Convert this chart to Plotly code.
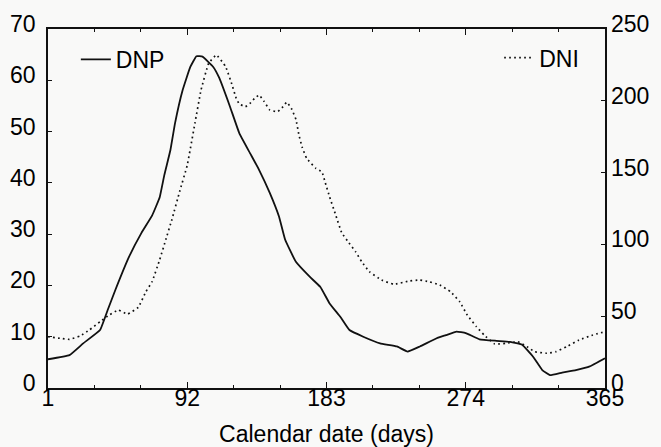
import plotly.graph_objects as go

# DNP (left axis) – calendar day and value
dnp_day = [1, 15, 24, 35, 40, 45, 54, 62, 69, 74, 77, 81, 84, 89, 94, 98, 102, 109, 113,
           120, 126, 133, 139, 146, 152, 156, 163, 172, 179, 185, 192, 198, 207, 218,
           229, 236, 244, 255, 261, 268, 274, 283, 294, 303, 311, 318, 324, 329, 337,
           346, 355, 365]
dnp_val = [5.6, 6.4, 8.7, 11.3, 15.2, 19.1, 25.6, 30.2, 33.6, 37.2, 41.5, 46.4, 51.6,
           58.1, 62.6, 64.7, 64.6, 62.6, 60.4, 54.8, 49.7, 45.8, 42.5, 38.0, 33.4, 28.9,
           24.6, 21.7, 19.7, 16.5, 13.9, 11.3, 10.0, 8.7, 8.1, 7.1, 8.1, 9.7, 10.3, 11.0,
           10.7, 9.5, 9.2, 9.0, 8.4, 6.1, 3.5, 2.5, 3.0, 3.5, 4.2, 5.8]

# DNI (right axis) – calendar day and value
dni_day = [1, 9, 15, 22, 28, 35, 41, 47, 53, 60, 65, 69, 74, 78, 82, 87, 92, 97, 101,
           106, 111, 117, 121, 124, 126, 130, 133, 136, 139, 142, 146, 151, 154, 157,
           160, 163, 165, 167, 170, 176, 180, 182, 185, 189, 193, 197, 202, 206, 211,
           219, 227, 237, 244, 250, 257, 264, 270, 275, 281, 286, 293, 300, 308, 314,
           319, 327, 333, 340, 348, 357, 365]
dni_val = [35.7, 34.6, 33.9, 36.2, 40.4, 46.2, 50.8, 54.3, 51.5, 56.2, 67.1, 74.0, 89.4,
           103.4, 117.4, 136.7, 155.2, 184.3, 207.5, 226.1, 231.9, 224, 212, 201.7, 197.8,
           195.9, 198.2, 201.7, 204, 199.9, 193.6, 192.4, 195.2, 199, 194.8, 187.1,
           176.2, 168, 160, 153, 150.6, 143.7, 133.2, 120.5, 108, 102, 94.9, 88, 81,
           75.2, 72.2, 74.5, 75.2, 74, 71.7, 67.1, 60.1, 50.8, 42.7, 36.9, 30.6, 31.1,
           32.2, 28.8, 25.3, 24.2, 25.3, 28.8, 33.4, 36.9, 39.2]

x_ticks = [1, 92, 183, 274, 365]
y1_ticks = [0, 10, 20, 30, 40, 50, 60, 70]
y2_ticks = [0, 50, 100, 150, 200, 250]

INK = "#111111"
TXT = "#000000"
BG = "#f9f9f8"
FONT = "Liberation Sans, Arial, sans-serif"

fig = go.Figure()
fig.add_trace(go.Scatter(
    x=dnp_day, y=dnp_val, name="DNP", mode="lines",
    line=dict(color=INK, width=1.8, shape="spline", smoothing=0.3),
    legend="legend", yaxis="y"))
fig.add_trace(go.Scatter(
    x=dni_day, y=dni_val, name="DNI", mode="lines",
    line=dict(color=INK, width=1.7, dash="1.7px,3.3px", shape="spline", smoothing=0.3),
    legend="legend2", yaxis="y2"))

fig.update_layout(
    template="none",
    width=661, height=447,
    margin=dict(l=48, r=56, t=29, b=59, autoexpand=False),
    paper_bgcolor=BG, plot_bgcolor=BG,
    font=dict(family=FONT, size=23, color=TXT),
    showlegend=True,
    legend=dict(x=0.050, xanchor="left", y=0.915, yanchor="middle",
                bgcolor="rgba(0,0,0,0)", font=dict(size=23, color=TXT)),
    legend2=dict(x=0.81, xanchor="left", y=0.92, yanchor="middle",
                 bgcolor="rgba(0,0,0,0)", font=dict(size=23, color=TXT)),
    xaxis=dict(
        range=[1, 365], tickmode="array", tickvals=x_ticks,
        ticktext=[str(v) for v in x_ticks],
        ticks="inside", ticklen=6, tickwidth=1.3, tickcolor=INK,
        tickfont=dict(size=23, color=TXT), ticklabelstandoff=-11,
        minor=dict(tickmode="linear", tick0=1, dtick=91 / 3, ticks="inside",
                   ticklen=3, tickwidth=1.2, tickcolor=INK, showgrid=False),
        showline=True, linecolor=INK, linewidth=1.5, mirror="ticks",
        showgrid=False, zeroline=False, automargin=False,
        title=dict(text="Calendar date (days)", font=dict(size=23, color=TXT), standoff=19),
    ),
    yaxis=dict(
        range=[0, 70], tickmode="array", tickvals=y1_ticks,
        ticks="inside", ticklen=4, tickwidth=1.2, tickcolor=INK,
        tickfont=dict(size=23, color=TXT),
        showline=True, linecolor=INK, linewidth=1.5, mirror=True, automargin=False,
        showgrid=False, zeroline=False, ticklabelstandoff=6, ticklabelshift=-5,
    ),
    yaxis2=dict(
        range=[0, 250], tickmode="array", tickvals=y2_ticks,
        overlaying="y", side="right", automargin=False,
        ticks="inside", ticklen=4, tickwidth=1.2, tickcolor=INK,
        tickfont=dict(size=23, color=TXT),
        showline=False, showgrid=False, zeroline=False,
        ticklabelstandoff=5, ticklabelshift=-5,
    ),
)

fig.write_html("out.html")
